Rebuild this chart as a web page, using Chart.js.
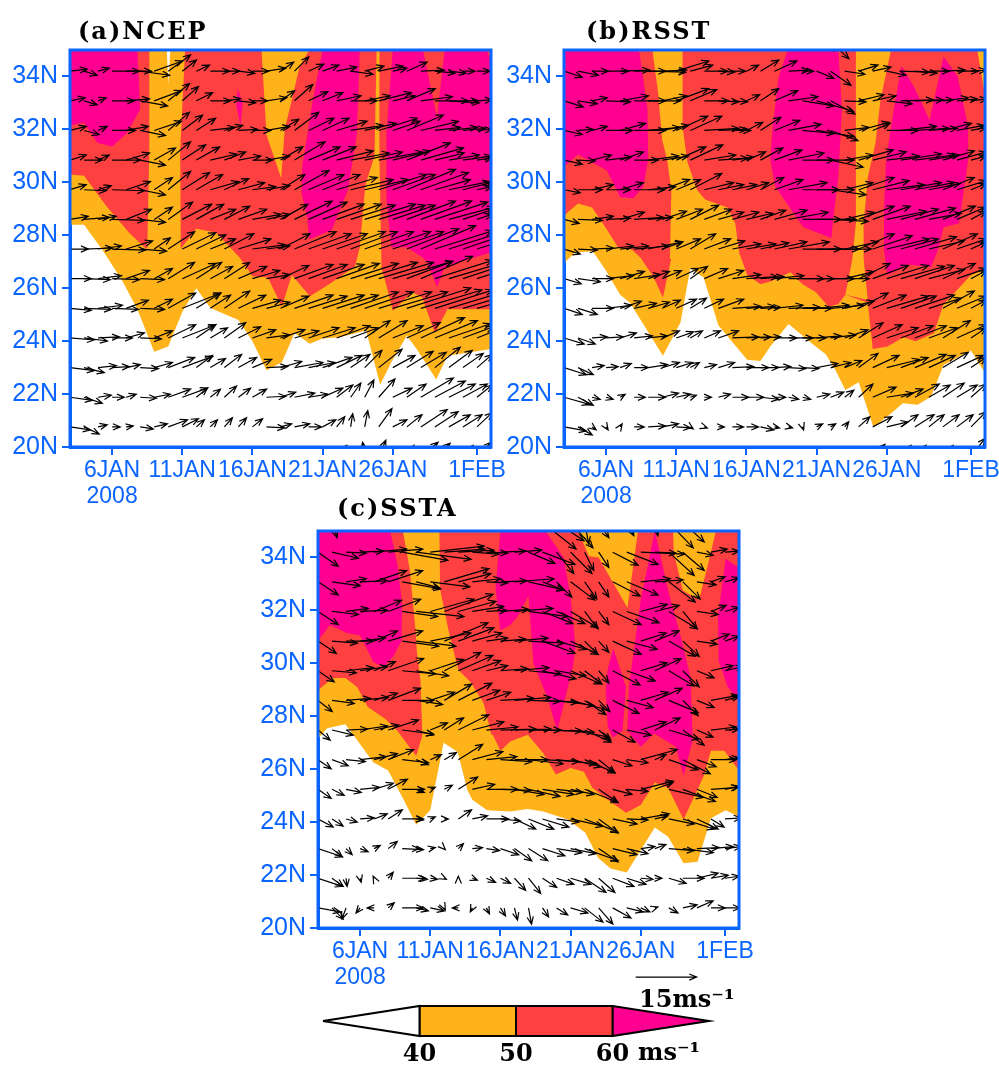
<!DOCTYPE html>
<html>
<head>
<meta charset="utf-8">
<title>Wind and speed, Jan 2008</title>
<script src="https://cdn.jsdelivr.net/npm/chart.js@4"></script>
<style>
body { margin: 0; background: #fff; overflow: hidden; }
canvas { position: absolute; }
</style>
</head>
<body>
<canvas id="panelA" width="521" height="510" style="left:0;top:0"></canvas>
<canvas id="panelB" width="505" height="510" style="left:494px;top:0;display:none"></canvas>
<canvas id="panelC" width="521" height="501" style="left:248px;top:490px"></canvas>
<canvas id="colorbar" width="450" height="106" style="left:293px;top:960px"></canvas>
<script>
var xTickDays = [6, 11, 16, 21, 26, 32];
var xTickLabels = [["6JAN", "2008"], "11JAN", "16JAN", "21JAN", "26JAN", "1FEB"];
var yTicks = [20, 22, 24, 26, 28, 30, 32, 34];
var barTicks = [40, 50, 60];

// days of January 2008 (32 = 1 Feb) and latitudes of the wind rows, north to south
var windDays = [3,4,5,6,7,8,9,10,11,12,13,14,15,16,17,18,19,20,21,22,23,24,25,26,27,28,29,30,31,32];
var windLats = [34.2,33.08,31.96,30.84,29.72,28.6,27.48,26.36,25.24,24.12,23,21.88,20.76];

// speed contours: (a) NCEP
var a40Days = [3,4,5.3,6.7,7.8,9,10,11,12,13,15,16,17,18.1,19,20.1,21,22.2,24.1,25.1,25.9,27,27.7,29.1,29.9,33,33,3];
var a40Lats = [28.4,28.4,27.45,26.3,25.2,23.6,23.8,25.1,26,25.25,24.8,24,22.9,23.2,24.3,23.9,24.1,24.15,24.4,22.35,23.2,24.2,23.7,22.55,23.45,23.7,35,35];
var aGapDays = [9.9,10.15,10];
var aGapLats = [35,35,33.7];
var a50Days = [3,4,5.6,7.2,8.4,10.9,12,13.4,15.1,16,17.1,18.1,18.8,20.1,21.6,23.5,25.1,25.4,26,27.4,28.1,29,29.9,33,33,3];
var a50Lats = [30.3,30.25,29.1,28.1,27.5,27.5,28.25,28.1,27.15,26.45,26.4,25.3,26.5,25.7,26.2,26.9,26.9,26.4,25.15,25.85,25.65,24.3,25.2,25.2,35,35];
var aBand1Days = [8.65,11.2,10.85,10.9,8.5,8.65];
var aBand1Lats = [35,35,31.2,27.4,27.4,31.2];
var aBand2Days = [16.65,17,18.05,18.3,18.8,19.35,20.05];
var aBand2Lats = [35,31.8,30.15,32,33.1,34.35,35];
var aBand3Days = [23.3,23.65,24.05,24.7,24.85,25.05,25.05,25.2];
var aBand3Lats = [26.8,27.55,29.9,31,35,35,31,26.8];
var a60aDays = [3,7.8,8,7.05,6,4.95,4,3];
var a60aLats = [35,35,32.75,31.85,31.35,31.5,32.25,32.15];
var a60bDays = [14.95,15.3,15.15,14.85];
var a60bLats = [33.55,33,32.15,32.9];
var a60cDays = [21,20.3,19.55,19.5,19.9,20.05,21.65,22.8,23.45,23.65];
var a60cLats = [35,33.1,30.6,29.6,28.7,27.85,28.2,29.7,31.85,35];
var a60dDays = [26,25.9,25.55,25.55,25.9,27,28.15,28.45,29.15,29.7,30.8,33,33,32.7,29.7,29.15,28.15];
var a60dLats = [35,34.35,31.85,29.35,27.55,27.55,27.15,27,26.05,26.8,27,27.35,34.55,35,35,32.45,35];

// (b) RSST
var b40Days = [3,3.8,5.05,5.95,7,7.7,10.05,11.3,12,12.95,14,16.05,17,17.7,19,20.8,21.65,22.35,23.05,24,25.05,26.15,27.15,28.2,29.15,30.05,32,33,33,3];
var b40Lats = [26.95,27.35,27.4,26.7,25.75,25.45,23.45,24.7,26.75,26.4,24.6,23.3,23.25,23.8,24.65,23.85,23.5,22.9,22.15,22.45,20.75,21.2,21.65,21.6,21.9,23.1,23.65,22.8,35,35];
var b50Days = [3,4,5,5.95,6.85,7.85,8.45,9.35,10.05,10.7,15.55,16.05,17,17.7,19.15,20,20.95,21.85,22.55,23.05,24.65,25,26.05,27.2,28.05,29.35,30.05,31.05,32,33,33,3];
var b50Lats = [28.75,29.2,29.05,28.3,27.55,27.45,27.15,26.45,25.65,27.25,27.25,26.5,26.15,26.25,26.6,26.15,25.85,25.3,25.4,25.75,25.45,23.7,23.8,24.15,24,24.3,25.4,25.95,26.5,26.7,35,35];
var bBand1Days = [9.3,9.7,10,10.35,10.65,10.55,15.55,15.2,14.65,13.05,12.5,11.8,11.45,11.45];
var bBand1Lats = [35,33.4,31.6,30.85,29.7,27.1,27.1,28.45,29.05,29.35,29.7,30.75,32.1,35];
var bBand2Days = [23.8,26.3,25.55,25.2,24.65,24.35,24.35,24.65,23.05,23.55,23.8];
var bBand2Lats = [35,35,33.1,31.5,30.2,28.45,27.1,25.55,25.75,27.1,28.45];
var bCornerDays = [32.45,32.95,33];
var bCornerLats = [35,33.4,35];
var b60aDays = [3,8.35,8.95,9,8.65,7.95,7,6.05,4,3];
var b60aLats = [35,35,32.75,30.85,29.85,29.4,29.45,30.45,31.05,30.6];
var b60bDays = [18.95,18.3,17.85,17.7,18.05,20.05,22.05,22.2,22.55,22.8,22.55];
var b60bLats = [35,34,32,30.85,29.85,28.3,27.9,28.7,30.2,32.75,35];
var b60cDays = [27.05,26.5,25.95,25.8,25.8,26.05,27.5,29.15,29.65,30.05,31.15,31.8,31.8,31.05,30.05,29.05,27.95];
var b60cLats = [34.4,32.75,30.85,28.95,27.45,26.5,26.9,26.8,27.45,28.3,28.45,30.85,32.1,34,34.75,32.35,33.6];

// (c) SSTA
var c40Days = [3,3.65,4.95,5.65,6.95,8,9.05,10,11,11.95,12.95,13.65,14,15.05,16.7,17.95,19.05,20.8,22.05,22.95,23.85,25,26,27,27.95,29.05,30.05,31,32.05,33,33,3];
var c40Lats = [27.15,27.55,27.7,27.2,26.25,25.95,24.9,23.9,24.45,27,26.65,25.2,24.85,24.45,24.4,24.5,24.4,24.1,23.6,22.65,22.25,22.1,22.95,23.8,23.45,22.45,22.5,24.15,24.45,24.2,35,35];
var c50Days = [3,4.05,4.95,5.8,6.55,7.8,8.65,10,10.45,15.45,16,16.7,17.95,19.05,19.95,21,21.95,22.55,23.5,24.95,26,27,27.95,29.05,30.5,31,31.95,33,33,3];
var c50Lats = [28.98,29.45,29.45,29.1,28.35,27.9,27.45,26.5,27.3,27.3,26.7,27.05,27.3,26.6,25.8,26.05,25.9,25.3,24.9,24.35,24.65,25.5,25.3,24.1,25.75,26.7,26.7,25.95,35,35];
var cBand1Days = [9.05,9.55,9.95,10.05,10.3,10.45,15.45,14.8,13.85,13,12.3,11.7,11.65];
var cBand1Lats = [35,33.5,31.25,30.4,29.35,27.1,27.1,28.5,29.3,29.75,31.25,32.8,35];
var cBand2Days = [21.55,25.8,25.3,25.05,23.7,23,22.3];
var cBand2Lats = [35,35,33.05,32.1,33.35,34,34.05];
var cBand3Days = [28.3,31.35,30.8,30.15,29,28.35];
var cBand3Lats = [35,35,33.75,32.4,32.75,34.2];
var c60aDays = [3,8.15,8.65,9,8.95,8.35,7.65,6.95,6,5.05,3.85,3];
var c60aLats = [35,35,33.75,32.25,30.85,30.25,29.85,30.05,31.05,31.15,31.45,30.85];
var c60bDays = [19.2,20.5,21,21.35,21.15,20.05,19.35,18.35,18,17.2,16.7,16,15.65,16];
var c60bLats = [35,34,32.5,30.6,29.85,27.45,28.7,30,32.55,31.75,31.45,31.25,32.85,35];
var c60cDays = [24.05,24.95,24.7,24,23.65,23.5,23.65];
var c60cLats = [30.55,29.1,27.45,27.2,27.6,29,29.8];
var c60dDays = [27,26,25.15,25.05,26,26.95,28.5,29.05,29.7,29.55,28.85,27.95];
var c60dLats = [35,32.4,29.1,27.45,26.85,27.35,26.85,25.75,27.1,29.45,31,32.75];
var c60eDays = [32.05,33,33,32.2,31.55,31.5];
var c60eLats = [33.95,33.6,28.6,29.1,30.1,31.75];

// wind components in quarters of a m/s, one line per row of windLats
var uA = [
[17,13,11,27,25,29,28,22,14,13,19,15,16,16,19,13,14,15,16,20,22,19,24,14,20,23,20,17,12,13],
[15,13,8,22,23,27,27,21,16,16,20,16,17,15,20,14,18,19,20,24,26,25,32,22,28,31,33,30,15,15],
[16,15,9,23,22,25,27,21,20,19,24,18,19,18,23,18,24,25,26,30,32,31,38,27,36,37,25,28,22,15],
[16,18,11,28,23,25,21,22,23,23,26,21,22,20,23,22,30,31,33,36,38,37,43,37,43,42,29,30,28,15],
[16,22,13,32,24,25,18,22,27,26,28,24,26,23,23,24,34,35,37,40,42,43,47,42,48,47,35,40,28,15],
[18,25,18,32,25,25,18,24,29,27,25,25,28,28,23,27,37,38,41,44,44,50,46,42,48,50,52,45,30,15],
[18,28,23,33,26,26,16,26,33,29,25,29,32,32,23,29,41,42,44,48,46,48,51,50,51,54,57,57,45,25],
[21,26,23,27,23,24,18,26,33,25,22,25,28,27,23,28,38,38,41,42,47,52,54,59,45,51,57,50,45,25],
[21,27,24,26,22,24,18,27,38,24,20,25,27,28,23,28,38,38,41,41,47,48,52,54,63,60,57,50,45,25],
[24,23,21,20,18,21,18,27,33,19,17,21,22,23,23,24,24,30,32,33,27,25,28,30,33,43,42,41,30,20],
[24,20,18,17,14,18,18,26,30,16,15,17,18,19,21,21,28,26,29,25,19,17,23,22,26,25,25,23,20,15],
[22,18,13,12,10,16,16,22,25,11,10,12,12,14,19,15,20,19,20,16,10,9,16,19,19,32,30,26,24,15],
[20,15,9,8,7,13,13,19,16,8,7,8,8,10,18,11,15,13,13,8,2,3,13,14,15,26,23,21,19,15]
];
var vA = [
[2,-4,3,0,0,-4,10,16,11,6,0,0,-2,0,3,9,14,7,6,4,-3,5,5,3,9,1,-2,-2,0,0],
[3,-4,3,0,2,-5,10,17,14,8,0,2,-2,0,3,10,16,9,8,5,0,5,8,5,12,4,0,-2,0,1],
[4,-4,4,0,4,-5,9,18,15,12,3,5,1,0,4,11,18,12,12,9,5,7,12,9,15,9,3,3,2,1],
[5,0,5,0,7,-5,12,18,15,13,6,8,4,0,4,13,18,13,13,9,7,8,8,9,17,12,7,5,4,2],
[5,-1,4,-1,8,-5,12,18,17,15,8,11,7,3,4,15,19,15,15,12,10,10,15,15,20,17,10,8,7,3],
[3,2,3,-1,10,-3,12,17,15,15,10,13,10,5,5,15,18,17,15,15,14,15,14,14,18,18,17,12,10,5],
[0,1,3,-1,8,-2,11,17,16,14,10,15,10,4,3,15,17,15,15,17,17,17,17,17,20,23,18,18,15,8],
[0,-1,3,-1,8,-1,10,16,15,16,12,16,12,8,4,13,14,14,14,15,15,16,16,17,17,22,18,15,15,8],
[-2,-1,3,-1,8,-1,9,15,15,15,13,17,13,8,6,12,13,12,13,13,16,16,16,16,20,18,18,15,13,7],
[-2,-3,1,0,5,-1,7,13,13,13,10,15,11,8,3,8,7,10,10,12,10,17,17,12,15,20,17,14,11,8],
[-3,-5,2,1,3,-1,5,10,11,12,9,13,10,8,1,6,5,5,10,12,13,17,18,12,16,15,20,17,14,13],
[-3,-6,2,0,3,-1,3,8,9,9,8,11,9,8,1,5,4,3,9,12,14,17,18,9,13,19,16,13,13,12],
[-3,-7,2,0,1,-2,3,7,8,7,7,9,9,8,-1,3,3,0,7,10,13,16,18,7,12,17,15,12,12,14]
];
var uB = [
[18,20,16,22,29,31,37,24,32,22,23,16,13,12,18,22,20,11,17,20,20,19,18,19,28,22,20,22,21,15],
[19,19,15,24,28,31,32,24,32,26,24,20,15,13,18,23,29,31,36,24,21,25,23,25,32,28,24,25,20,16],
[18,15,15,26,25,31,31,26,31,31,34,28,18,16,20,25,32,31,37,27,24,30,17,31,35,34,28,28,27,15],
[18,17,19,25,23,24,30,26,29,32,31,29,21,19,22,27,35,31,37,32,28,34,33,32,40,39,30,31,29,15],
[16,24,21,24,23,30,27,27,24,31,29,25,24,22,23,28,38,36,37,35,28,35,36,37,40,39,31,31,29,15],
[15,24,21,24,24,29,24,24,26,28,27,25,26,26,25,32,39,38,39,37,29,35,37,39,37,40,32,32,28,15],
[16,19,21,27,28,34,34,20,24,25,26,26,28,29,28,32,40,38,42,40,33,35,39,42,37,41,35,34,29,15],
[17,22,21,27,24,26,21,19,22,17,23,25,28,31,23,29,35,31,37,38,29,31,35,41,43,39,35,32,29,15],
[18,19,21,25,21,22,21,18,20,16,19,25,28,28,20,28,31,29,32,33,29,29,33,41,35,39,32,31,29,15],
[20,17,15,17,16,18,19,17,17,12,16,20,26,24,20,22,24,23,24,25,23,24,29,31,32,31,28,27,29,15],
[22,15,12,12,11,14,19,17,16,9,12,16,21,22,18,16,17,16,21,20,17,19,26,32,27,31,26,25,26,15],
[25,15,8,7,5,11,17,16,14,6,7,12,16,17,18,11,10,8,13,13,9,14,23,26,22,24,21,21,20,15],
[22,14,4,2,2,10,17,16,14,3,3,6,11,12,13,5,4,1,6,5,4,11,19,21,17,19,15,16,16,15]
];
var vB = [
[-6,-4,0,0,1,0,-1,1,10,6,0,-1,0,6,11,10,1,0,-7,-14,-3,6,4,-4,-1,-2,0,1,0,1],
[-6,-3,3,-1,5,0,0,5,12,11,0,-1,-1,6,12,10,4,-5,-10,-13,-1,6,5,-3,1,1,1,3,2,2],
[-4,1,4,0,7,0,3,5,14,14,2,1,0,8,13,10,6,-3,-6,-10,3,8,7,0,4,2,2,7,5,3],
[-4,-1,5,3,8,0,4,4,13,15,5,2,3,8,12,10,7,0,0,-7,5,10,8,4,6,5,5,9,8,4],
[-3,0,5,0,7,0,3,10,10,16,7,5,5,7,12,10,7,0,0,-5,7,12,9,5,7,7,6,12,9,6],
[-4,-1,3,1,7,2,2,8,10,14,10,7,7,6,9,9,7,0,0,-2,7,13,13,8,10,11,6,13,12,8],
[-5,-1,1,3,3,3,7,7,10,15,10,8,5,5,6,7,7,0,0,0,7,15,13,10,10,12,8,15,10,7],
[-5,-3,0,3,7,4,7,8,10,12,10,8,4,2,2,3,0,0,0,0,7,15,13,13,12,13,9,15,10,8],
[-6,-6,0,3,7,5,6,8,9,10,9,9,2,2,1,3,1,0,3,3,7,15,13,12,12,13,10,17,12,8],
[-6,-6,1,1,5,2,2,7,6,7,7,7,1,1,1,0,0,0,2,3,8,15,13,10,12,12,10,17,13,10],
[-7,-7,2,1,4,0,3,5,5,5,3,5,1,0,0,1,-1,-1,4,5,7,14,12,8,10,13,12,15,12,10],
[-7,-8,-2,-2,3,0,0,4,3,2,0,3,0,0,-2,0,-2,-2,3,5,7,13,10,4,8,13,12,14,12,13],
[-4,-8,-3,-3,3,0,1,3,-1,-2,-1,0,0,0,-3,-1,-1,-3,3,3,5,10,10,5,12,12,12,12,12,15]
];
var uC = [
[20,26,20,23,32,34,45,54,53,40,35,26,21,25,27,26,32,17,21,9,10,25,31,43,21,25,21,16,16,14],
[20,28,20,27,32,34,38,23,39,44,32,28,21,26,39,35,21,15,24,12,10,27,31,29,28,26,17,19,14,14],
[20,26,22,27,27,32,35,47,43,48,37,31,20,28,38,39,30,28,27,13,10,28,32,26,24,28,14,21,15,14],
[18,25,27,25,23,34,36,39,40,43,35,29,21,25,33,35,32,29,27,13,10,28,30,25,24,26,16,20,18,14],
[16,24,27,27,21,35,33,32,33,36,34,28,21,27,34,32,33,29,30,17,10,27,28,26,26,25,16,17,22,18],
[14,22,24,28,23,32,31,26,24,27,33,27,24,33,36,31,35,37,35,21,11,26,26,27,27,29,15,17,27,14],
[12,21,21,27,24,30,31,17,17,19,30,31,31,35,36,32,39,37,38,26,12,22,24,25,25,30,21,16,25,14],
[13,16,19,26,23,25,26,12,11,12,24,30,30,31,33,34,36,39,30,30,16,19,21,36,11,29,27,19,25,14],
[13,12,15,19,19,19,22,8,5,8,19,22,31,30,29,31,31,26,23,33,19,19,21,32,18,34,32,20,27,14],
[15,11,11,14,13,14,21,7,5,4,13,15,22,20,21,25,26,22,32,33,19,24,21,28,13,25,31,21,13,16],
[24,10,6,8,6,9,21,3,5,1,5,10,13,18,17,19,22,25,25,33,19,24,21,14,11,25,30,22,22,16],
[24,11,1,1,-1,5,23,11,7,2,0,5,9,10,11,12,14,17,20,21,16,21,19,12,7,17,21,21,17,14],
[22,11,-4,-4,-7,6,21,12,14,1,-6,-2,3,5,3,3,6,11,17,18,14,18,16,9,3,9,14,16,14,15]
];
var vC = [
[-14,-6,-1,1,3,3,-8,-7,6,3,2,-2,-1,1,2,-11,-12,-21,-21,-18,-15,-13,-12,-2,-1,-23,-18,-3,3,1],
[-13,-4,3,1,11,11,-7,-6,-5,13,8,3,-1,1,3,-8,-8,-15,-18,-17,-15,-14,-13,3,2,-20,-17,-3,5,4],
[-13,-3,3,1,11,12,-5,-5,12,17,10,5,1,2,3,-5,-12,-12,-16,-17,-13,-13,-11,7,6,-17,-17,-3,6,4],
[-12,-2,0,3,10,10,-5,-5,8,18,13,8,3,2,3,-2,-12,-8,-13,-13,-11,-13,-8,8,10,-15,-15,-3,7,5],
[-11,-2,3,4,9,12,-3,-5,11,18,15,10,5,2,3,-3,-8,-5,-13,-13,-12,-14,-10,8,12,-15,-16,-7,5,4],
[-11,-3,2,3,7,12,0,-4,8,16,17,10,8,2,3,-1,-2,-5,-9,-14,-11,-13,-7,8,12,-12,-15,-7,5,4],
[-10,-5,1,4,5,10,-4,-5,7,12,15,8,3,1,1,0,-1,-2,-7,-12,-10,-12,-5,8,12,-9,-15,-7,3,1],
[-9,-6,-2,3,6,10,-3,-5,5,7,15,8,3,-2,0,-4,-2,-4,-7,-13,-13,-6,-3,10,5,-10,-14,-7,0,2],
[-9,-6,-3,2,6,10,0,-3,2,4,12,5,0,-1,-5,-7,-5,-3,-5,-13,-13,-5,-2,8,7,-8,-12,-8,2,3],
[-8,-7,-3,1,5,9,0,-1,2,0,9,3,0,-2,-10,-10,-8,-3,-7,-13,-14,-5,-1,5,3,-5,-10,-10,-8,1],
[-8,-8,-6,-3,3,7,-1,0,1,-1,5,1,-2,-6,-12,-12,-7,-4,-5,-12,-13,-6,-5,2,4,-2,-4,1,2,2],
[-8,-8,-8,-4,2,6,0,-1,-1,-1,2,-2,-4,-5,-12,-15,-9,-6,-6,-14,-14,-8,-6,-1,0,-5,0,5,3,2],
[-4,-11,-11,-5,0,5,0,-3,-3,-2,0,-4,-6,-8,-12,-16,-9,-7,-5,-14,-16,-10,-4,-4,1,-5,3,7,0,0]
];

// rows just outside the frame, only the arrow heads show
var edgeLatA = [19.64,19.64,19.64,19.64,19.64,19.64,19.64,19.64];
var edgeDayA = [22,24,25,27,28,29,31,32];
var edgeUA = [10,-2,7,7,17,15,10,14];
var edgeVA = [11,14,16,11,14,13,11,14];
var edgeLatB = [35.32,35.32,19.64,19.64,19.64,19.64,19.64];
var edgeDayB = [21,22,25,27,28,30,32];
var edgeUB = [17,18,12,10,11,10,14];
var edgeVB = [-9,-17,12,11,11,11,18];
var edgeLatC = [35.32,35.32,35.32,35.32,35.32,35.32,35.32,35.32,35.32,35.32,35.32,35.32,35.32,35.32];
var edgeDayC = [4,5,12,13,18,19,20,21,22,23,25,27,28,29];
var edgeUC = [5,11,9,10,20,33,27,22,4,10,7,3,24,21];
var edgeVC = [-15,-1,-2,-1,-2,-26,-18,-25,-21,-15,-13,-13,-25,-19];

var keySpeed = 15;
var keyPixels = 61;
var blue = "#0a64ff";
var orange = "#ffb31a";
var red = "#ff4040";
var pink = "#ff0090";
var tickFont = "Liberation Sans";
var titleFont = "DejaVu Serif";

var zip = function (xs, ys) {
    return xs.map(function (x, i) { return { x: x, y: ys[i] }; });
};

var drawArrows = function (ctx, meta, ds) {
    var scale = keyPixels / keySpeed / 4;
    ctx.strokeStyle = "#000";
    ctx.lineWidth = 1.2;
    meta.data.forEach(function (pt, i) {
        var dx = ds.windU[i] * scale, dy = -ds.windV[i] * scale;
        var angle = Math.atan2(dy, dx);
        var hx = pt.x + dx, hy = pt.y + dy;
        ctx.beginPath();
        ctx.moveTo(pt.x, pt.y);
        ctx.lineTo(hx, hy);
        ctx.moveTo(hx - 8 * Math.cos(angle - 0.4), hy - 8 * Math.sin(angle - 0.4));
        ctx.lineTo(hx, hy);
        ctx.lineTo(hx - 8 * Math.cos(angle + 0.4), hy - 8 * Math.sin(angle + 0.4));
        ctx.stroke();
    });
};

var panelPlugin = {
    id: "panelPlugin",
    afterDatasetsDraw: function (chart) {
        var ctx = chart.ctx, area = chart.chartArea;
        ctx.save();
        ctx.beginPath();
        ctx.rect(area.left, area.top, area.width, area.height);
        ctx.clip();
        chart.data.datasets.forEach(function (ds, i) {
            if (ds.windU) drawArrows(ctx, chart.getDatasetMeta(i), ds);
        });
        ctx.restore();
        ctx.strokeStyle = blue;
        ctx.lineWidth = 3;
        ctx.strokeRect(area.left, area.top, area.width, area.height);
    },
    afterDraw: function (chart, args, opts) {
        var ctx = chart.ctx;
        ctx.save();
        ctx.fillStyle = "#000";
        ctx.font = "bold 24px '" + titleFont + "'";
        ctx.letterSpacing = "2px";
        ctx.fillText(opts.text, opts.x, opts.y);
        ctx.restore();
    }
};

var makePanel = function (id, title, shapes, u, v, edge) {
    var datasets = shapes.map(function (s, i) {
        return {
            type: "scatter",
            showLine: true,
            data: zip(s[1], s[2]),
            backgroundColor: s[0],
            borderColor: s[0],
            borderWidth: 0,
            pointRadius: 0,
            fill: "shape",
            order: 100 - i
        };
    });
    var tails = [], windU = [], windV = [];
    windLats.forEach(function (lat, r) {
        windDays.forEach(function (day, c) {
            tails.push({ x: day, y: lat });
            windU.push(u[r][c]);
            windV.push(v[r][c]);
        });
    });
    edge[1].forEach(function (day, i) {
        tails.push({ x: day, y: edge[0][i] });
        windU.push(edge[2][i]);
        windV.push(edge[3][i]);
    });
    datasets.push({ type: "scatter", data: tails, windU: windU, windV: windV, pointRadius: 0, order: 0 });

    return new Chart(document.getElementById(id), {
        type: "scatter",
        data: { datasets: datasets },
        plugins: [panelPlugin],
        options: {
            responsive: false,
            animation: false,
            events: [],
            layout: { padding: { top: title[3], right: 30 } },
            plugins: {
                legend: { display: false },
                tooltip: { enabled: false },
                panelPlugin: { text: title[0], x: title[1], y: title[2] }
            },
            scales: {
                x: {
                    type: "linear", min: 3, max: 33,
                    afterBuildTicks: function (scale) {
                        scale.ticks = xTickDays.map(function (d) { return { value: d }; });
                    },
                    afterFit: function (scale) { scale.height = 63; },
                    grid: { drawOnChartArea: false, color: blue, tickLength: 8, lineWidth: 2 },
                    border: { color: blue, width: 3 },
                    ticks: {
                        color: blue, padding: 2, autoSkip: false, maxRotation: 0, minRotation: 0,
                        font: { family: tickFont, size: 23, lineHeight: 1.15 },
                        callback: function (val) { return xTickLabels[xTickDays.indexOf(val)]; }
                    }
                },
                y: {
                    type: "linear", min: 20, max: 35,
                    afterBuildTicks: function (scale) {
                        scale.ticks = yTicks.map(function (d) { return { value: d }; });
                    },
                    afterFit: function (scale) { scale.width = 70; },
                    grid: { drawOnChartArea: false, color: blue, tickLength: 8, lineWidth: 2 },
                    border: { color: blue, width: 3 },
                    ticks: {
                        color: blue, padding: 4,
                        font: { family: tickFont, size: 25 },
                        callback: function (val) { return val + "N"; }
                    }
                }
            }
        }
    });
};

// panel b needs the full width of the window and a bit more for the plot margin
var canvasB = document.getElementById("panelB");
canvasB.width = 521;
canvasB.style.display = "block";

makePanel("panelA", ["(a)NCEP", 78, 39, 50], [
    [orange, a40Days, a40Lats], ["#fff", aGapDays, aGapLats], [red, a50Days, a50Lats],
    [orange, aBand1Days, aBand1Lats], ["#fff", aGapDays, aGapLats], [orange, aBand2Days, aBand2Lats], [orange, aBand3Days, aBand3Lats],
    [pink, a60aDays, a60aLats], [pink, a60bDays, a60bLats], [pink, a60cDays, a60cLats], [pink, a60dDays, a60dLats]
], uA, vA, [edgeLatA, edgeDayA, edgeUA, edgeVA]);

makePanel("panelB", ["(b)RSST", 92, 39, 50], [
    [orange, b40Days, b40Lats], [red, b50Days, b50Lats],
    [orange, bBand1Days, bBand1Lats], [orange, bBand2Days, bBand2Lats], [orange, bCornerDays, bCornerLats],
    [pink, b60aDays, b60aLats], [pink, b60bDays, b60bLats], [pink, b60cDays, b60cLats]
], uB, vB, [edgeLatB, edgeDayB, edgeUB, edgeVB]);

makePanel("panelC", ["(c)SSTA", 89, 26, 41], [
    [orange, c40Days, c40Lats], [red, c50Days, c50Lats],
    [orange, cBand1Days, cBand1Lats], [orange, cBand2Days, cBand2Lats], [orange, cBand3Days, cBand3Lats],
    [pink, c60aDays, c60aLats], [pink, c60bDays, c60bLats], [pink, c60cDays, c60cLats], [pink, c60dDays, c60dLats], [pink, c60eDays, c60eLats]
], uC, vC, [edgeLatC, edgeDayC, edgeUC, edgeVC]);

// colour key, the bar runs from 30 to 70 m/s on its own scale
var barDays = [[30, 40, 40, 30], [40, 50, 50, 40, 40], [50, 60, 60, 50, 50], [60, 70, 60, 60]];
var barLevels = [[0, 1, -1, 0], [1, 1, -1, -1, 1], [1, 1, -1, -1, 1], [1, 0, -1, 1]];
var barColors = ["#fff", orange, red, pink];
var keyX = [62.4];
var keyY = [2.93];

var barDatasets = barDays.map(function (d, i) {
    return {
        type: "scatter", showLine: true, data: zip(d, barLevels[i]),
        backgroundColor: barColors[i], borderColor: "#000", borderWidth: 2,
        pointRadius: 0, fill: "shape", clip: false
    };
});
barDatasets.push({ type: "scatter", data: zip(keyX, keyY), keyArrow: true, windU: [keySpeed * 4], windV: [0], pointRadius: 0, clip: false });

new Chart(document.getElementById("colorbar"), {
    type: "scatter",
    data: { datasets: barDatasets },
    plugins: [{
        id: "barText",
        afterDraw: function (chart) {
            var ctx = chart.ctx;
            ctx.save();
            chart.data.datasets.forEach(function (ds, i) {
                if (ds.keyArrow) drawArrows(ctx, chart.getDatasetMeta(i), ds);
            });
            ctx.fillStyle = "#000";
            ctx.font = "bold 24px '" + titleFont + "'";
            ctx.fillText("15ms\u207B\u00B9", 346, 47);
            ctx.fillText("ms\u207B\u00B9", 345, 100);
            ctx.restore();
        }
    }],
    options: {
        responsive: false,
        animation: false,
        events: [],
        layout: { padding: { top: 46, left: 30, right: 34 } },
        plugins: { legend: { display: false }, tooltip: { enabled: false } },
        scales: {
            x: {
                type: "linear", min: 30, max: 70,
                afterBuildTicks: function (scale) {
                    scale.ticks = barTicks.map(function (d) { return { value: d }; });
                },
                afterFit: function (scale) { scale.height = 30; },
                grid: { display: false, drawTicks: false },
                border: { display: false },
                ticks: { color: "#000", padding: 4, maxRotation: 0, font: { family: titleFont, size: 24, weight: "bold" } }
            },
            y: { type: "linear", min: -1, max: 1, display: false }
        }
    }
});
</script>
</body>
</html>
